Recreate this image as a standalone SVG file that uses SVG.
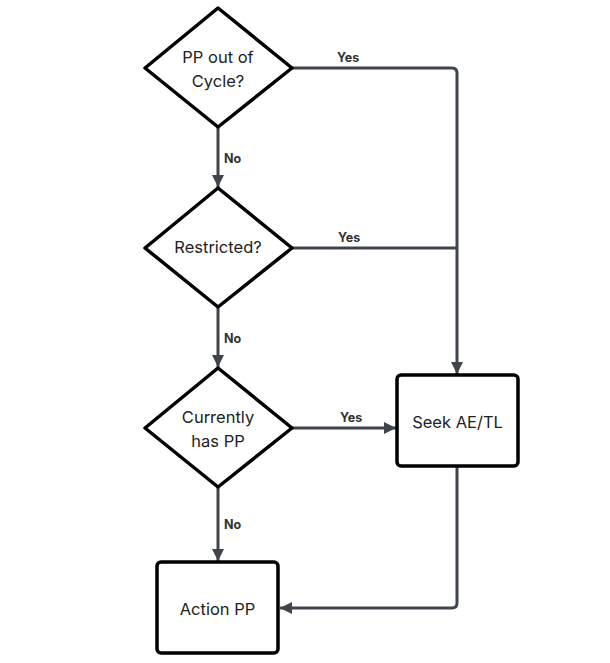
<svg xmlns="http://www.w3.org/2000/svg" width="610" height="663" viewBox="0 0 610 663">
<style>
.node{fill:#fff;stroke:#000;stroke-width:3.5;stroke-linejoin:round}
.t{font-family:Inter,"Liberation Sans",sans-serif;font-size:16.5px;fill:#222;text-anchor:middle}
.l{font-family:Inter,"Liberation Sans",sans-serif;font-size:12.5px;font-weight:bold;fill:#333}
.c{fill:none;stroke:#3f444d;stroke-width:3;stroke-linejoin:round}
</style>
<defs>
<marker id="a" viewBox="0 0 12 12" refX="12" refY="6" markerWidth="12" markerHeight="12" markerUnits="userSpaceOnUse" orient="auto">
<path d="M0,0 L12,6 L0,12 z" fill="#3f444d"/>
</marker>
</defs>
<rect width="610" height="663" fill="#fff"/>
<g id="connectors">
<path class="c" d="M218,127 V187" marker-end="url(#a)"/>
<path class="c" d="M218,307 V367" marker-end="url(#a)"/>
<path class="c" d="M218,487 V561" marker-end="url(#a)"/>
<path class="c" d="M292,68 H452 Q457,68 457,73 V374" marker-end="url(#a)"/>
<path class="c" d="M292,248 H457"/>
<path class="c" d="M292,428 H396" marker-end="url(#a)"/>
<path class="c" d="M457,466 V603 Q457,608 452,608 H280" marker-end="url(#a)"/>
<text class="l" x="337" y="62">Yes</text>
<text class="l" x="224" y="163">No</text>
<text class="l" x="338" y="242">Yes</text>
<text class="l" x="224" y="343">No</text>
<text class="l" x="340" y="422">Yes</text>
<text class="l" x="224" y="529">No</text>
</g>
<g id="n1">
<path class="node" d="M218,8 L292,68 L218,127 L145,68 Z"/>
<text class="t" x="218" y="63">PP out of</text>
<text class="t" x="218" y="87">Cycle?</text>
</g>
<g id="n2">
<path class="node" d="M218,188 L292,248 L218,307 L145,248 Z"/>
<text class="t" x="218" y="253">Restricted?</text>
</g>
<g id="n3">
<path class="node" d="M218,368 L292,428 L218,487 L145,428 Z"/>
<text class="t" x="218" y="423">Currently</text>
<text class="t" x="218" y="447">has PP</text>
</g>
<g id="n4">
<rect class="node" x="397" y="375" width="121" height="91" rx="4"/>
<text class="t" x="457.5" y="428">Seek AE/TL</text>
</g>
<g id="n5">
<rect class="node" x="157" y="562" width="121" height="91" rx="4"/>
<text class="t" x="217.5" y="615">Action PP</text>
</g>
</svg>
